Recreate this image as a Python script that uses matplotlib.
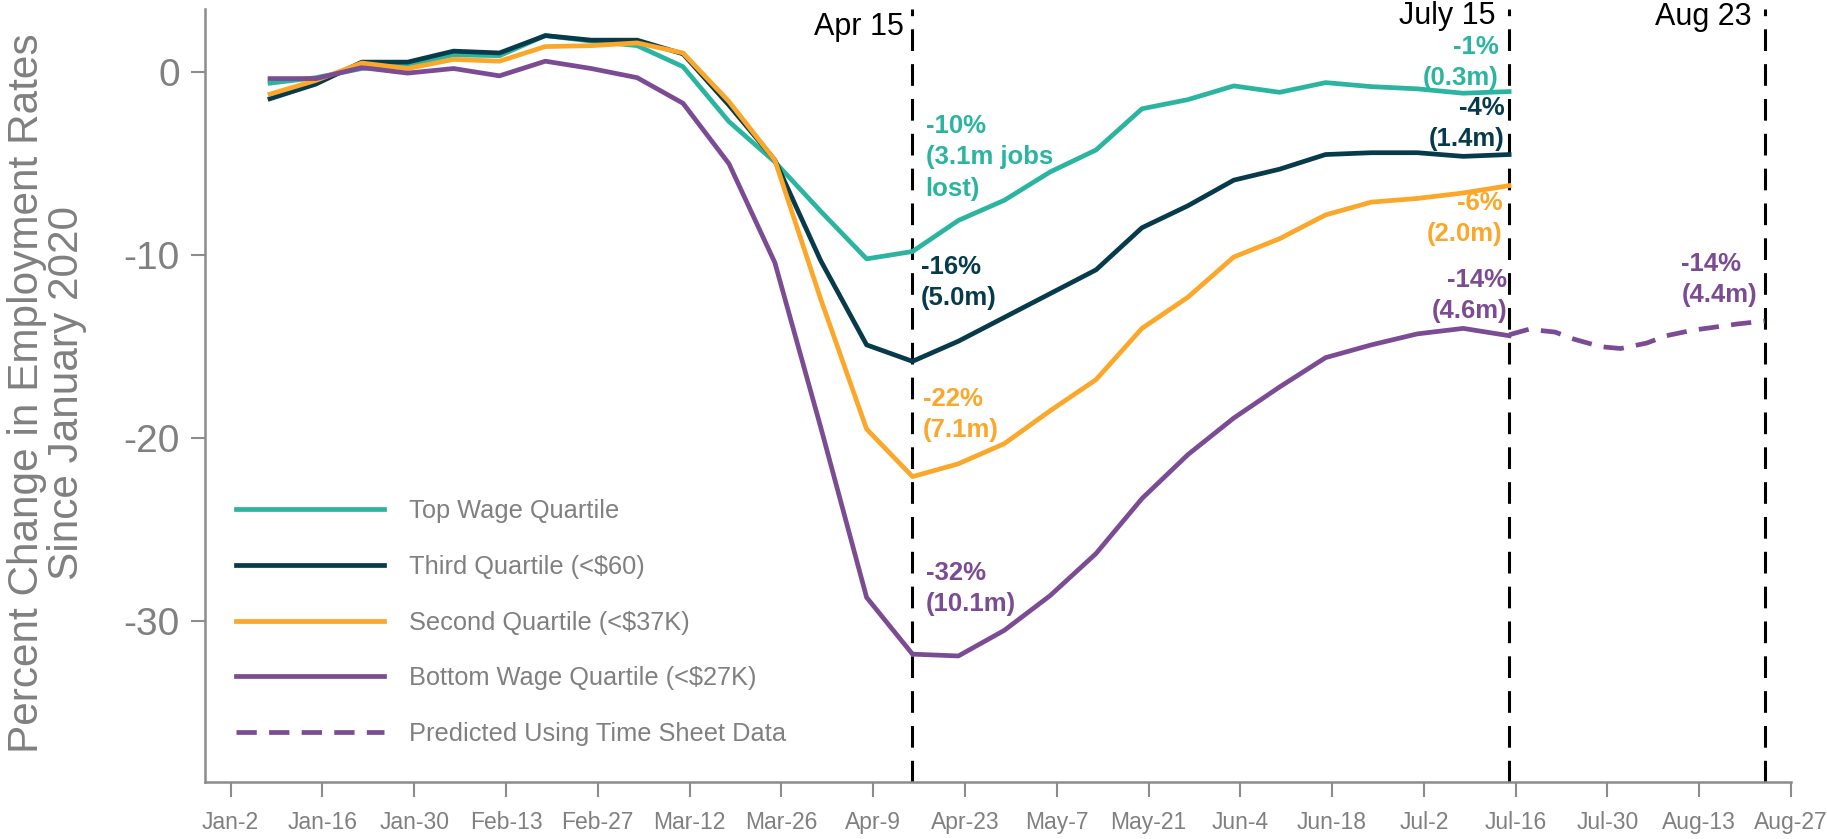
import datetime as dt
import matplotlib
matplotlib.use('Agg')
import matplotlib.pyplot as plt

plt.rcParams['font.family'] = ['Liberation Sans', 'DejaVu Sans']

# weekly observations (Jan 8 .. Jul 15, 2020)
week_dates = ['2020-01-08', '2020-01-15', '2020-01-22', '2020-01-29', '2020-02-05',
              '2020-02-12', '2020-02-19', '2020-02-26', '2020-03-04', '2020-03-11',
              '2020-03-18', '2020-03-25', '2020-04-01', '2020-04-08', '2020-04-15',
              '2020-04-22', '2020-04-29', '2020-05-06', '2020-05-13', '2020-05-20',
              '2020-05-27', '2020-06-03', '2020-06-10', '2020-06-17', '2020-06-24',
              '2020-07-01', '2020-07-08', '2020-07-15']

top_quartile = [-0.6, -0.3, 0.2, 0.4, 0.95, 0.9, 2.0, 1.7, 1.45, 0.3,
                -2.7, -4.9, -7.6, -10.2, -9.8, -8.1, -7.0, -5.45, -4.25, -2.0,
                -1.5, -0.75, -1.1, -0.57, -0.79, -0.91, -1.15, -1.06]
third_quartile = [-1.45, -0.65, 0.55, 0.55, 1.15, 1.05, 2.0, 1.75, 1.75, 1.0,
                  -1.8, -4.8, -10.3, -14.9, -15.8, -14.7, -13.4, -12.1, -10.8, -8.5,
                  -7.3, -5.9, -5.3, -4.5, -4.4, -4.4, -4.6, -4.5]
second_quartile = [-1.2, -0.45, 0.5, 0.2, 0.7, 0.6, 1.4, 1.45, 1.6, 1.05,
                   -1.6, -4.8, -12.4, -19.5, -22.1, -21.4, -20.3, -18.5, -16.8, -14.0,
                   -12.3, -10.1, -9.1, -7.8, -7.1, -6.9, -6.6, -6.2]
bottom_quartile = [-0.35, -0.35, 0.25, -0.05, 0.2, -0.2, 0.6, 0.2, -0.3, -1.7,
                   -5.0, -10.4, -19.4, -28.7, -31.8, -31.9, -30.5, -28.6, -26.3, -23.3,
                   -20.9, -18.9, -17.2, -15.6, -14.9, -14.3, -14.0, -14.4]

# prediction from time sheet data (bottom quartile)
pred_dates = ['2020-07-15', '2020-07-18', '2020-07-22', '2020-07-25', '2020-07-29',
              '2020-08-01', '2020-08-05', '2020-08-08', '2020-08-12', '2020-08-16',
              '2020-08-19', '2020-08-23']
pred_bottom = [-14.35, -14.05, -14.2, -14.6, -15.0, -15.1, -14.8, -14.4, -14.1,
               -13.9, -13.75, -13.6]

legend_labels = ['Top Wage Quartile', 'Third Quartile (<$60)', 'Second Quartile (<$37K)',
                 'Bottom Wage Quartile (<$27K)', 'Predicted Using Time Sheet Data']

event_dates = ['2020-04-15', '2020-07-15', '2020-08-23']

TEAL = '#2bb5a0'
NAVY = '#073b4c'
ORANGE = '#fba72a'
PURPLE = '#7b4b94'
GREY = '#808080'


def d(s):
    return dt.datetime.strptime(s, '%Y-%m-%d')


def hrs(h):
    return dt.timedelta(hours=h)


x = [d(s) for s in week_dates]
xp = [d(s) for s in pred_dates]

fig = plt.figure(figsize=(18.27, 8.39), dpi=100)
ax = fig.add_axes([0.1122, 0.0683, 0.8681, 0.9207])

lw = 3.4
ax.plot(x, top_quartile, color=TEAL, lw=lw, label=legend_labels[0])
ax.plot(x, third_quartile, color=NAVY, lw=lw, label=legend_labels[1])
ax.plot(x, second_quartile, color=ORANGE, lw=lw, label=legend_labels[2])
ax.plot(x, bottom_quartile, color=PURPLE, lw=lw, label=legend_labels[3])
ax.plot(xp, pred_bottom, color=PURPLE, lw=lw, dashes=(4.3, 2.6), label=legend_labels[4])

for ds in event_dates:
    ax.axvline(d(ds), color='black', lw=2.2, dashes=(7.1, 4.3), zorder=1)

# date labels above the dashed lines
top_lbl = dict(ha='right', va='baseline', fontsize=22, color='black')
ax.text(d('2020-04-13') + hrs(16), 2.04, 'Apr 15', **top_lbl)
ax.text(d('2020-07-13'), 2.65, 'July 15', **top_lbl)
ax.text(d('2020-08-21'), 2.6, 'Aug 23', **top_lbl)

# value callouts
ann = dict(fontsize=18.5, fontweight='bold', va='top', linespacing=1.38)
ax.text(d('2020-04-17'), -2.3, '-10%\n(3.1m jobs\nlost)', color=TEAL, ha='left', **ann)
ax.text(d('2020-04-16') + hrs(7), -10.0, '-16%\n(5.0m)', color=NAVY, ha='left', **ann)
ax.text(d('2020-04-16') + hrs(14), -17.2, '-22%\n(7.1m)', color=ORANGE, ha='left', **ann)
ax.text(d('2020-04-17'), -26.7, '-32%\n(10.1m)', color=PURPLE, ha='left', **ann)
ax.text(d('2020-07-13') + hrs(10), 2.05, '-1%\n(0.3m)', color=TEAL, ha='right', **ann)
ax.text(d('2020-07-14') + hrs(7), -1.3, '-4%\n(1.4m)', color=NAVY, ha='right', **ann)
ax.text(d('2020-07-14'), -6.5, '-6%\n(2.0m)', color=ORANGE, ha='right', **ann)
ax.text(d('2020-07-14') + hrs(17), -10.7, '-14%\n(4.6m)', color=PURPLE, ha='right', **ann)
ax.text(d('2020-08-10') + hrs(7), -9.8, '-14%\n(4.4m)', color=PURPLE, ha='left', **ann)

# axes styling
ax.set_xlim(dt.datetime(2019, 12, 29, 2), d('2020-08-27'))
ax.set_ylim(-38.77, 3.44)
for side in ('top', 'right'):
    ax.spines[side].set_visible(False)
for side in ('left', 'bottom'):
    ax.spines[side].set_color('#8c8c8c')
    ax.spines[side].set_linewidth(1.8)

tick_dates = [d('2020-01-02') + dt.timedelta(days=14 * i) for i in range(18)]
ax.set_xticks(tick_dates)
ax.set_xticklabels([f'{t:%b}-{t.day}' for t in tick_dates])
ax.set_yticks([0, -10, -20, -30])
ax.set_yticklabels(['0', '-10', '-20', '-30'])
ax.tick_params(axis='y', length=10, width=1.5, color='#8c8c8c', labelsize=28,
               labelcolor=GREY, pad=8)
ax.tick_params(axis='x', length=11, width=1.5, color='#8c8c8c', labelsize=16.5,
               labelcolor=GREY, pad=10)

fig.text(47 / 1827, 1 - 393 / 839, 'Percent Change in Employment Rates\nSince January 2020',
         rotation=90, ha='center', va='center', multialignment='center',
         fontsize=30.5, color=GREY, linespacing=1.0)

ax.legend(loc='upper left', bbox_to_anchor=(236.5 / 1827, 1 - 499 / 839),
          bbox_transform=fig.transFigure, frameon=False, fontsize=18.3,
          handlelength=5.8, handletextpad=1.0, labelspacing=1.25,
          borderpad=0, borderaxespad=0, labelcolor=GREY)

fig.savefig('out.png', dpi=100)
